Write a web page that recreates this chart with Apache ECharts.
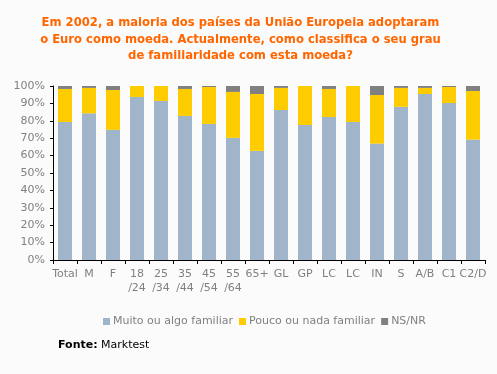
<!DOCTYPE html>
<html><head><meta charset="utf-8">
<script src="https://cdn.jsdelivr.net/npm/echarts@6/dist/echarts.min.js"></script>
<style>html,body{margin:0;padding:0;background:#fbfbfb;}#c{width:497px;height:374px;}</style>
</head><body><div id="c"></div>
<script>
const categories = ['Total','M','F','18\n/24','25\n/34','35\n/44','45\n/54','55\n/64','65+','GL','GP','LC','LC','IN','S','A/B','C1','C2/D'];
const muito = [79.3,84.3,74.8,93.7,91.4,82.8,78.2,70.2,62.7,86.2,77.6,82.2,79.3,66.9,88.0,95.4,90.2,69.2];
const pouco = [19.0,14.6,22.9,6.3,8.6,15.5,21.2,26.4,32.7,12.7,22.4,16.1,20.7,27.9,10.9,3.5,9.2,27.9];
const nsnr  = [1.7,1.1,2.3,0,0,1.7,0.6,3.4,4.6,1.1,0,1.7,0,5.2,1.1,1.1,0.6,2.9];
const yTicks = [0,10,20,30,40,50,60,70,80,90,100];
const titleText = 'Em 2002, a maioria dos países da União Europeia adoptaram\no Euro como moeda. Actualmente, como classifica o seu grau\nde familiaridade com esta moeda?';

const chart = echarts.init(document.getElementById('c'), null, {renderer:'canvas'});
const font = 'Verdana, "DejaVu Sans", sans-serif';
chart.setOption({
  backgroundColor: '#fbfbfb',
  animation: false,
  legend: {
    bottom: 45, left: 101, itemWidth: 7, itemHeight: 7, itemGap: 6, icon: 'rect', padding: 2,
    textStyle: {color:'#808080', fontFamily: font, fontSize: 11, padding:[0,0,0,-2]},
    data: ['Muito ou algo familiar','Pouco ou nada familiar','NS/NR']
  },
  graphic: [{
    type:'text', x: 240.5, y: 15,
    style: {text: titleText, fill:'#ff6600', fontFamily: font, fontSize: 11.6, fontWeight:'bold',
      lineHeight: 16.5, align:'center', verticalAlign:'top'}
  },{
    type:'text', left: 58, top: 340,
    style: {text: '{b|Fonte:} Marktest', fill:'#000', font: '11px '+font,
      rich: {b: {fontWeight:'bold', fontFamily: font, fontSize: 11, fill:'#000'}}}
  }],
  grid: {left: 53, right: 12, top: 86, bottom: 114},
  xAxis: {
    type:'category', data: categories,
    axisLine: {lineStyle:{color:'#000'}},
    axisTick: {show:true, length:4, lineStyle:{color:'#000'}},
    axisLabel: {color:'#808080', fontFamily: font, fontSize: 11, interval: 0, lineHeight: 14, margin: 7}
  },
  yAxis: {
    type:'value', min: yTicks[0], max: yTicks[yTicks.length-1], interval: 10,
    axisLine: {show:true, lineStyle:{color:'#000'}},
    axisTick: {show:true, length:3, lineStyle:{color:'#000'}},
    splitLine: {show:false},
    axisLabel: {color:'#808080', fontFamily: font, fontSize: 11, margin: 8, formatter: '{value}%'}
  },
  series: [
    {name:'Muito ou algo familiar', type:'bar', stack:'a', data: muito, barWidth: 14, itemStyle:{color:'#a0b4ca'}},
    {name:'Pouco ou nada familiar', type:'bar', stack:'a', data: pouco, barWidth: 14, itemStyle:{color:'#ffcc00'}},
    {name:'NS/NR', type:'bar', stack:'a', data: nsnr, barWidth: 14, itemStyle:{color:'#808080'}}
  ]
});
</script></body></html>
